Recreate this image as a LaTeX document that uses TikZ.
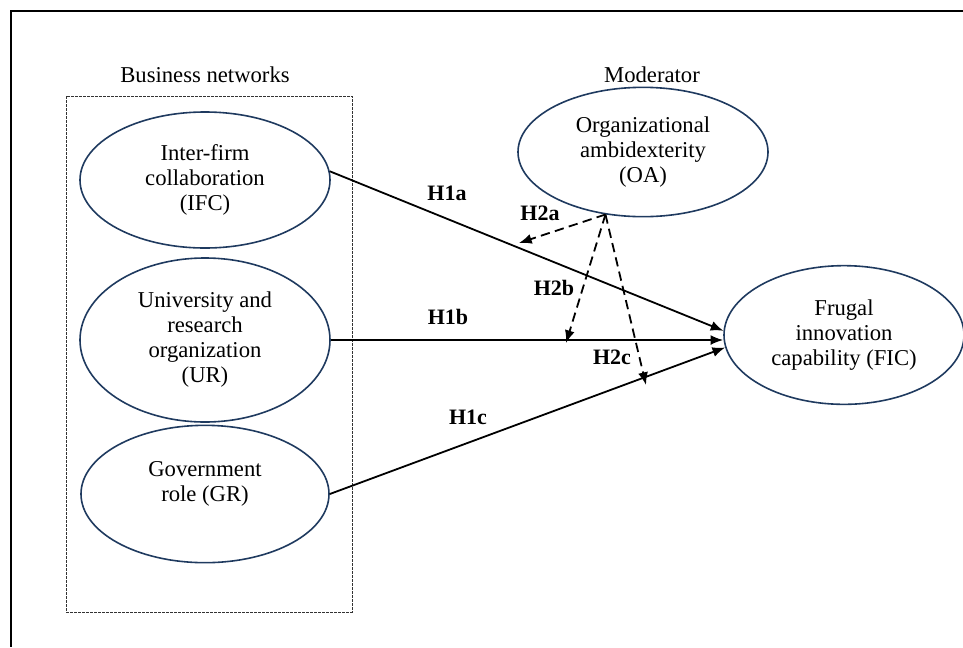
\documentclass[tikz,border=0pt]{standalone}
\usepackage{fontspec}
\setmainfont{Liberation Serif}
\usetikzlibrary{shapes.geometric,arrows.meta,calc}
\definecolor{navy}{HTML}{1F3A5F}
\tikzset{
  construct/.style={ellipse, draw=navy, line width=1.2pt, inner sep=0pt, align=center,
    font=\fontsize{17}{18.75}\selectfont},
  plain/.style={align=center, inner sep=0pt, font=\fontsize{17}{18.75}\selectfont},
  hyp/.style={inner sep=0pt, font=\fontsize{16.5}{18}\selectfont\bfseries},
  direct/.style={draw=black, line width=1.35pt, -{Latex[length=9.5pt,width=7.5pt]}},
  moder/.style={draw=black, line width=1.35pt, dash pattern=on 7pt off 4pt, -{Latex[length=9.5pt,width=7.5pt]}},
  frame/.style={draw=black, line width=0.8pt},
  groupbox/.style={draw=black!80, line width=0.5pt, dash pattern=on 2pt off 1pt}
}
\begin{document}
\begin{tikzpicture}[x=0.75pt,y=-0.75pt]
\useasboundingbox (0,0) rectangle (963,647);
% frame
\draw[frame] (963,11) -- (11,11) -- (11,647);
% group box
\draw[groupbox] (66,96) rectangle (352,612);
\node[plain] (bn) at (205,75) {Business networks};
\node[plain] (mod) at (652,75) {Moderator};
% constructs
\node[construct, minimum width=187.5pt, minimum height=102pt] (IFC) at (205,180) {Inter-firm\\collaboration\\(IFC)};
\node[construct, minimum width=187.5pt, minimum height=123pt] (UR) at (205,340) {University and\\research\\organization\\(UR)};
\node[construct, minimum width=186pt, minimum height=103pt] (GR) at (205,494) {};
\node[plain] (GRt) at ($(GR)+(0,-10)$) {Government\\role (GR)};
\node[construct, minimum width=187.5pt, minimum height=97pt] (OA) at (643,152) {Organizational\\ambidexterity\\(OA)};
\node[construct, minimum width=180pt, minimum height=104pt] (FIC) at (844,335) {Frugal\\innovation\\capability (FIC)};
% direct effects
\draw[direct] (IFC.4) -- (FIC.178);
\draw[direct] (UR.east) -- (UR.east -| FIC.west);
\draw[direct] (GR.east) -- (FIC.186);
\node[hyp] (h1a) at (447,193) {H1a};
\node[hyp] (h1b) at (448,317) {H1b};
\node[hyp] (h1c) at (468,417) {H1c};
% moderation
\coordinate (apex) at (OA.239);
\coordinate (ta) at (519,243);
\coordinate (tb) at (566,343);
\coordinate (tc) at (646,385);
\draw[moder] (apex) -- (ta);
\draw[moder] (apex) -- (tb);
\draw[moder] (apex) -- (tc);
\node[hyp] (h2a) at (540,213) {H2a};
\node[hyp] (h2b) at (554,288) {H2b};
\node[hyp] (h2c) at (612,357) {H2c};
\end{tikzpicture}
\end{document}
